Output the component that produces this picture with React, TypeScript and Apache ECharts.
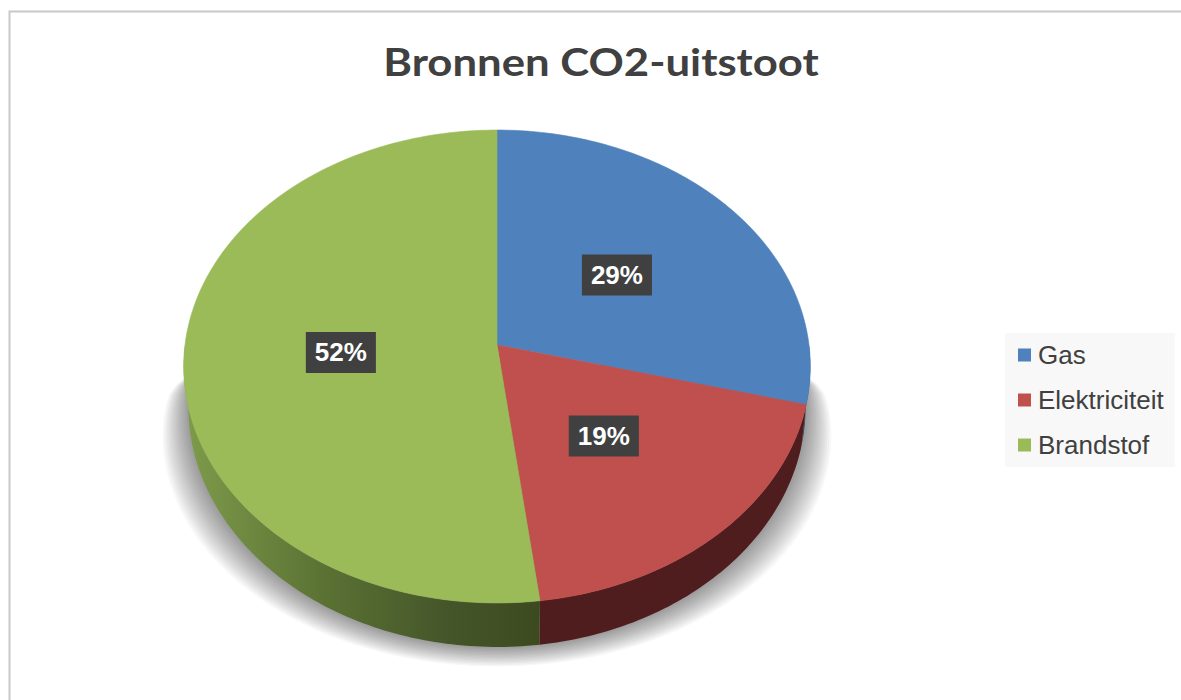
import React, { useEffect, useRef } from "react";
import * as echarts from "echarts";

const TITLE = "Bronnen CO2-uitstoot";
const categories = ["Gas", "Elektriciteit", "Brandstof"];
const values = [29, 19, 52];
const topColors = ["#4f81bd", "#c0504d", "#9bbb59"];
const sideColors = ["#2d4a6e", "#4f1d1e", "#5a7133"];

// geometry of the 3D pie (perspective-projected disc)
const CX = 497;
const CY = 345;
const RX = 312;
const RY = 234.5;
const PERSP = 0.0909;
const DEPTH = 40;
const BOTTOM_SHRINK = 0.985;

function proj(r: number, deg: number, bottom: boolean): number[] {
  const t = (deg * Math.PI) / 180;
  const u = r * Math.sin(t);
  const v = r * Math.cos(t);
  const s = 1 / (1 + PERSP * v);
  const k = bottom ? BOTTOM_SHRINK : 1;
  const x = CX + RX * k * u * s;
  const y = CY - RY * v * s + (bottom ? DEPTH * s : 0);
  return [x, y];
}

function arc(a: number, b: number, bottom: boolean): number[][] {
  const pts: number[][] = [];
  const n = Math.max(2, Math.ceil(Math.abs(b - a)));
  for (let i = 0; i <= n; i++) {
    pts.push(proj(1, a + ((b - a) * i) / n, bottom));
  }
  return pts;
}

export default function App() {
  const ref = useRef<HTMLDivElement>(null);
  useEffect(() => {
    if (!ref.current) return;
    const chart = echarts.init(ref.current, null, { renderer: "svg" });
    const total = values.reduce((s, v) => s + v, 0);
    const starts: number[] = [];
    let acc = 0;
    values.forEach((v) => {
      starts.push(acc);
      acc += v;
    });

    const renderItem = (params: any, api: any) => {
      const i = params.dataIndex;
      const val = api.value(0);
      const a = (starts[i] / total) * 360;
      const b = ((starts[i] + val) / total) * 360;
      const children: any[] = [];

      if (i === 0) {
        // soft cast shadow under the cylinder, built from stacked translucent layers
        const LAYERS = 14;
        for (let k = 1; k <= LAYERS; k++) {
          const sh: number[][] = [];
          sh.push([CX - RX * 0.95, CY + 20]);
          for (let d = 270; d >= 90; d -= 2) {
            const p = proj(1, d, true);
            const t = (d * Math.PI) / 180;
            const front = Math.max(0, -Math.cos(t));
            const ex = 0.0105 * k * (0.3 + 0.7 * Math.sqrt(front));
            sh.push([CX + (p[0] - CX) * (1 + ex), p[1] + 1.4 * k * front]);
          }
          sh.push([CX + RX * 0.95, CY + 20]);
          children.push({
            type: "polygon",
            z2: 0,
            shape: { points: sh },
            style: { fill: "rgba(0,0,0,0.03)", stroke: null },
          });
        }
      }

      // visible side wall (front half)
      const lo = Math.max(a, 90);
      const hi = Math.min(b, 270);
      if (hi > lo) {
        const topPts = arc(lo, hi, false);
        const botPts = arc(lo, hi, true).reverse();
        let fill: any = sideColors[i];
        if (i === 2) {
          fill = new echarts.graphic.LinearGradient(0, 0, 1, 0, [
            { offset: 0, color: "#7e9c4b" },
            { offset: 0.4, color: "#5a7133" },
            { offset: 0.75, color: "#44552a" },
            { offset: 1, color: "#3d4a20" },
          ]);
        }
        children.push({
          type: "polygon",
          z2: 1,
          shape: { points: topPts.concat(botPts) },
          style: { fill, stroke: null },
        });
      }

      // top face
      const top = [[CX, CY]].concat(arc(a, b, false));
      children.push({
        type: "polygon",
        z2: 2,
        shape: { points: top },
        style: { fill: topColors[i], stroke: topColors[i], lineWidth: 0.6 },
      });

      // data label
      const mid = (a + b) / 2;
      const lp = proj(0.5, mid, false);
      children.push({
        type: "text",
        z2: 3,
        style: {
          text: Math.round((val / total) * 100) + "%",
          x: lp[0],
          y: lp[1],
          align: "center",
          verticalAlign: "middle",
          fill: "#ffffff",
          fontSize: 26,
          fontWeight: "bold",
          fontFamily: "'Liberation Sans', Arial, sans-serif",
          backgroundColor: "#404040",
          padding: [8, 9, 7, 9],
          boxShadowBlur: 6,
          boxShadowColor: "rgba(0,0,0,0.55)",
          boxShadowOffsetX: 3,
          boxShadowOffsetY: 3,
        },
      });

      return { type: "group", children };
    };

    chart.setOption({
      animation: false,
      backgroundColor: "#ffffff",
      legend: {
        orient: "vertical",
        left: 1005,
        top: 333,
        padding: [9, 11, 9, 13],
        itemGap: 19,
        itemWidth: 13,
        itemHeight: 13,
        icon: "rect",
        backgroundColor: "#f8f8f8",
        selectedMode: false,
        data: categories,
        textStyle: {
          fontSize: 26,
          color: "#404040",
          fontFamily: "'Liberation Sans', Arial, sans-serif",
          padding: [0, 0, 0, 2],
        },
      },
      graphic: [
        {
          type: "rect",
          silent: true,
          shape: { x: 9.5, y: 11.5, width: 1200, height: 720 },
          style: { fill: "none", stroke: "#c8c8c8", lineWidth: 2 },
        },
        {
          type: "text",
          silent: true,
          x: 601,
          y: 62,
          scaleX: 1.15,
          style: {
            text: TITLE,
            align: "center",
            verticalAlign: "middle",
            fontFamily: "Lato, 'Open Sans', sans-serif",
            fontWeight: "bold",
            fontSize: 38,
            fill: "#404040",
          },
        },
      ],
      series: [
        {
          type: "pie",
          name: "legend",
          radius: [0, 0],
          center: [-200, -200],
          silent: true,
          label: { show: false },
          labelLine: { show: false },
          data: categories.map((c, i) => ({
            name: c,
            value: values[i],
            itemStyle: { color: topColors[i] },
          })),
        },
        {
          type: "custom",
          coordinateSystem: "none",
          silent: true,
          renderItem,
          data: values.map((v) => [v]),
        },
      ],
    });
    return () => chart.dispose();
  }, []);
  return (
    <div
      ref={ref}
      style={{ position: "fixed", left: 0, top: 0, width: 1181, height: 700, background: "#fff" }}
    />
  );
}
